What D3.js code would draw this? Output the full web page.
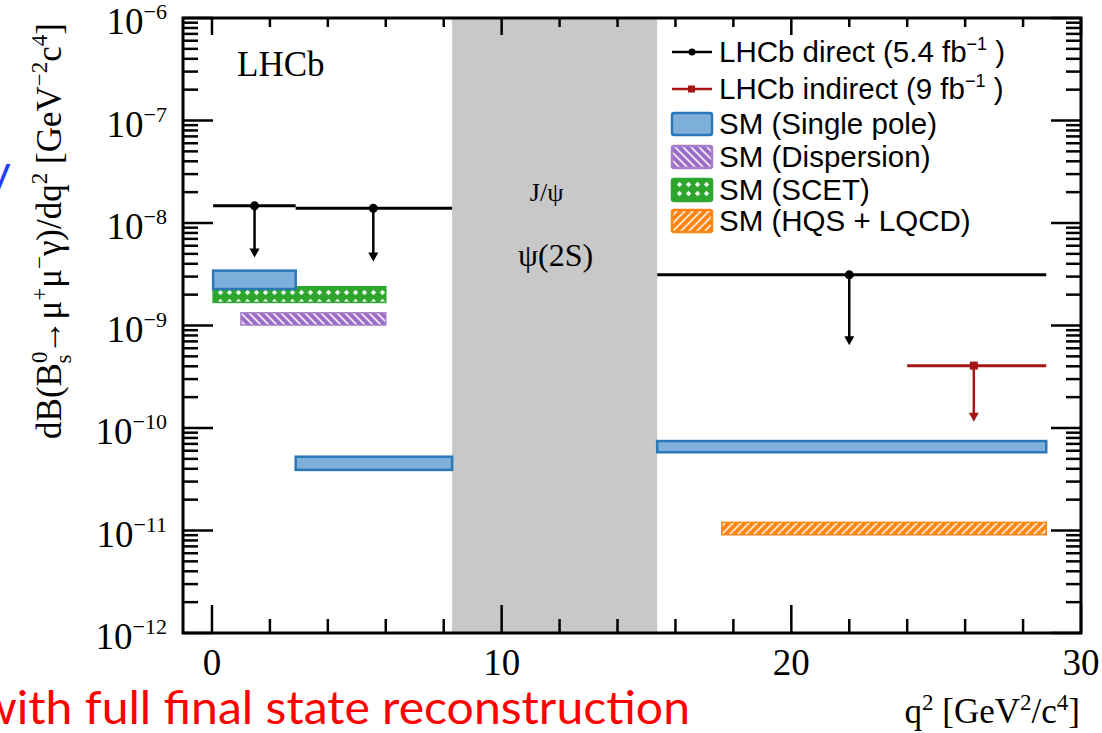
<!DOCTYPE html>
<html><head><meta charset="utf-8">
<script src="https://cdn.jsdelivr.net/npm/d3@7/dist/d3.min.js"></script>
<style>body{margin:0;background:#fff;overflow:hidden}svg{display:block}</style>
</head><body>
<svg id="c" width="1102" height="733"></svg>
<script>
// ---- data ----
const xDomain = [-1, 30];
const yDomain = [1e-12, 1e-6];
const xMajorTicks = [0, 10, 20, 30];
const xMinorTicks = [2, 4, 6, 8, 12, 14, 16, 18, 22, 24, 26, 28];
const yDecades = [-12, -11, -10, -9, -8, -7, -6];
const resonanceBand = [8.29, 15.37];
const resonanceLabels = ["J/\u03C8", "\u03C8(2S)"];
// LHCb direct: bin lo, bin hi, limit, marker x, arrow end
const directLo = [0.04, 2.89, 15.37];
const directHi = [2.89, 8.29, 28.8];
const directLimit = [1.47e-8, 1.39e-8, 3.12e-9];
const directMarkX = [1.47, 5.57, 22.0];
const directArrowTo = [4.6e-9, 4.2e-9, 6.4e-10];
// LHCb indirect
const indirectLo = [24.0];
const indirectHi = [28.8];
const indirectLimit = [4.06e-10];
const indirectMarkX = [26.3];
const indirectArrowTo = [1.15e-10];
// SM predictions: [qlo, qhi, low, high]
const smSinglePole = [[0.04, 2.89, 2.27e-9, 3.43e-9], [2.89, 8.29, 3.9e-11, 5.25e-11], [15.37, 28.8, 5.8e-11, 7.46e-11]];
const smDispersion = [[1.0, 6.0, 1.01e-9, 1.33e-9]];
const smSCET = [[0.04, 6.0, 1.68e-9, 2.39e-9]];
const smHQS = [[17.6, 28.8, 9.1e-12, 1.2e-11]];
const legendLabels = ["LHCb direct (5.4 fb", "LHCb indirect (9 fb", "SM (Single pole)", "SM (Dispersion)", "SM (SCET)", "SM (HQS + LQCD)"];

// ---- setup ----
const L = 183, R = 1081, T = 18, B = 633;
const x = d3.scaleLinear().domain(xDomain).range([L, R]);
const y = d3.scaleLog().domain(yDomain).range([B, T]);
const svg = d3.select("#c");
const serif = "'Liberation Serif','DejaVu Serif',serif";
const sans = "'Liberation Sans',Arial,sans-serif";
const defs = svg.append("defs");

// patterns
function hatch(id, color, dir) {
  const p = defs.append("pattern").attr("id", id).attr("patternUnits", "userSpaceOnUse")
    .attr("width", 8).attr("height", 8);
  p.append("rect").attr("width", 8).attr("height", 8).attr("fill", color);
  const d = dir > 0 ? "M-2,10 L10,-2 M-2,2 L2,-2 M6,10 L10,6" : "M-2,-2 L10,10 M6,-2 L10,2 M-2,6 L2,10";
  p.append("path").attr("d", d).attr("stroke", "#fff").attr("stroke-width", 1.8).attr("opacity", 0.85);
}
hatch("hPurple", "#9b6cc4", -1);
hatch("hOrange", "#ff8512", 1);
{
  const p = defs.append("pattern").attr("id", "hGreen").attr("patternUnits", "userSpaceOnUse")
    .attr("width", 9).attr("height", 9);
  p.append("rect").attr("width", 9).attr("height", 9).attr("fill", "#2ea62e");
  p.append("path").attr("d", "M4.5,1.8 L7.2,4.5 L4.5,7.2 L1.8,4.5 Z").attr("fill", "#fff").attr("opacity", 0.9);
}

// resonance band
svg.append("rect").attr("x", x(resonanceBand[0])).attr("y", T)
  .attr("width", x(resonanceBand[1]) - x(resonanceBand[0])).attr("height", B - T)
  .attr("fill", "#c8c8c8");
const bandMid = (x(resonanceBand[0]) + x(resonanceBand[1])) / 2;
svg.append("text").attr("x", bandMid - 8).attr("y", 201).attr("text-anchor", "middle")
  .attr("font-family", serif).attr("font-size", 26).text(resonanceLabels[0]);
svg.append("text").attr("x", bandMid + 1).attr("y", 266).attr("text-anchor", "middle")
  .attr("font-family", serif).attr("font-size", 32).text(resonanceLabels[1]);

// SM bands
function bands(data, fill, stroke, sw) {
  svg.append("g").selectAll("rect").data(data).join("rect")
    .attr("x", d => x(d[0])).attr("y", d => y(d[3]))
    .attr("width", d => x(d[1]) - x(d[0])).attr("height", d => y(d[2]) - y(d[3]))
    .attr("fill", fill).attr("stroke", stroke).attr("stroke-width", sw);
}
bands(smSCET, "url(#hGreen)", "#2ea62e", 1.5);
bands(smDispersion, "url(#hPurple)", "#a77fcb", 1.5);
bands(smHQS, "url(#hOrange)", "#ff8512", 1.5);
bands(smSinglePole, "#7eb0db", "#2a78b8", 2.5);

// limits
function limits(lo, hi, lim, mx, to, color, square) {
  const g = svg.append("g");
  lo.forEach((l, i) => {
    g.append("line").attr("x1", x(l)).attr("x2", x(hi[i])).attr("y1", y(lim[i])).attr("y2", y(lim[i]))
      .attr("stroke", color).attr("stroke-width", 3);
    g.append("line").attr("x1", x(mx[i])).attr("x2", x(mx[i])).attr("y1", y(lim[i])).attr("y2", y(to[i]) - 6)
      .attr("stroke", color).attr("stroke-width", 2.5);
    const ax = x(mx[i]), ay = y(to[i]);
    g.append("path").attr("d", `M${ax - 5},${ay - 9} L${ax + 5},${ay - 9} L${ax},${ay} Z`).attr("fill", color);
    if (square) g.append("rect").attr("x", ax - 4).attr("y", y(lim[i]) - 4).attr("width", 8).attr("height", 8).attr("fill", color);
    else g.append("circle").attr("cx", ax).attr("cy", y(lim[i])).attr("r", 4.5).attr("fill", color);
  });
}
limits(directLo, directHi, directLimit, directMarkX, directArrowTo, "#000", false);
limits(indirectLo, indirectHi, indirectLimit, indirectMarkX, indirectArrowTo, "#a51515", true);

// axes ticks
const tk = svg.append("g").attr("stroke", "#000").attr("stroke-width", 2.5);
xMajorTicks.forEach(v => {
  tk.append("line").attr("x1", x(v)).attr("x2", x(v)).attr("y1", B).attr("y2", B - 28);
  tk.append("line").attr("x1", x(v)).attr("x2", x(v)).attr("y1", T).attr("y2", T + 17);
});
xMinorTicks.forEach(v => {
  tk.append("line").attr("x1", x(v)).attr("x2", x(v)).attr("y1", B).attr("y2", B - 14);
  tk.append("line").attr("x1", x(v)).attr("x2", x(v)).attr("y1", T).attr("y2", T + 9);
});
yDecades.forEach(e => {
  const v = Math.pow(10, e);
  tk.append("line").attr("x1", L).attr("x2", L + 30).attr("y1", y(v)).attr("y2", y(v));
  tk.append("line").attr("x1", R).attr("x2", R - 30).attr("y1", y(v)).attr("y2", y(v));
  if (e < -6) for (let m = 2; m <= 9; m++) {
    const yy = y(m * v);
    tk.append("line").attr("x1", L).attr("x2", L + 15).attr("y1", yy).attr("y2", yy);
    tk.append("line").attr("x1", R).attr("x2", R - 15).attr("y1", yy).attr("y2", yy);
  }
});
svg.append("rect").attr("x", L).attr("y", T).attr("width", R - L).attr("height", B - T)
  .attr("fill", "none").attr("stroke", "#000").attr("stroke-width", 3);

// tick labels
yDecades.forEach(e => {
  const t = svg.append("text").attr("x", 167).attr("y", y(Math.pow(10, e)) + 16).attr("text-anchor", "end")
    .attr("font-family", serif).attr("font-size", 37);
  t.append("tspan").text("10");
  t.append("tspan").attr("dy", -15).attr("font-size", 22).text("\u2212" + (-e));
});
xMajorTicks.forEach(v => {
  svg.append("text").attr("x", x(v)).attr("y", 675).attr("text-anchor", "middle")
    .attr("font-family", serif).attr("font-size", 37).text(v);
});

// axis titles
{
  const t = svg.append("text").attr("transform", "translate(61,231) rotate(-90)").attr("text-anchor", "middle")
    .attr("font-family", serif).attr("font-size", 35);
  const s = 23;
  t.append("tspan").text("dB(B");
  t.append("tspan").attr("dy", -14).attr("font-size", s).text("0");
  t.append("tspan").attr("dx", -12).attr("dy", 24).attr("font-size", s).text("s");
  t.append("tspan").attr("dy", -10).text("\u2192\u03BC");
  t.append("tspan").attr("dy", -14).attr("font-size", s).text("+");
  t.append("tspan").attr("dy", 14).text("\u03BC");
  t.append("tspan").attr("dy", -14).attr("font-size", s).text("\u2212");
  t.append("tspan").attr("dy", 14).text("\u03B3)/dq");
  t.append("tspan").attr("dy", -14).attr("font-size", s).text("2");
  t.append("tspan").attr("dy", 14).text(" [GeV");
  t.append("tspan").attr("dy", -14).attr("font-size", s).text("\u22122");
  t.append("tspan").attr("dy", 14).text("c");
  t.append("tspan").attr("dy", -14).attr("font-size", s).text("4");
  t.append("tspan").attr("dy", 14).text("]");
}
{
  const t = svg.append("text").attr("x", 1080).attr("y", 723).attr("text-anchor", "end")
    .attr("font-family", serif).attr("font-size", 35);
  const s = 23;
  t.append("tspan").text("q");
  t.append("tspan").attr("dy", -13).attr("font-size", s).text("2");
  t.append("tspan").attr("dy", 13).text(" [GeV");
  t.append("tspan").attr("dy", -13).attr("font-size", s).text("2");
  t.append("tspan").attr("dy", 13).text("/c");
  t.append("tspan").attr("dy", -13).attr("font-size", s).text("4");
  t.append("tspan").attr("dy", 13).text("]");
}
svg.append("text").attr("x", 237).attr("y", 76).attr("font-family", serif).attr("font-size", 35).text("LHCb");

// legend
const rowY = [52, 89, 124, 157, 190, 221];
const lg = svg.append("g");
const sx0 = 672, sx1 = 712, tx = 719;
[["#000", false], ["#a51515", true]].forEach(([c, sq], i) => {
  lg.append("line").attr("x1", sx0).attr("x2", sx1).attr("y1", rowY[i]).attr("y2", rowY[i]).attr("stroke", c).attr("stroke-width", 2.5);
  if (sq) lg.append("rect").attr("x", 688).attr("y", rowY[i] - 3.5).attr("width", 7).attr("height", 7).attr("fill", c);
  else lg.append("circle").attr("cx", 692).attr("cy", rowY[i]).attr("r", 3.5).attr("fill", c);
});
[["#7eb0db", "#2a78b8"], ["url(#hPurple)", "#a77fcb"], ["url(#hGreen)", "#2ea62e"], ["url(#hOrange)", "#ff8512"]].forEach(([f, s], j) => {
  const i = j + 2;
  lg.append("rect").attr("x", sx0).attr("y", rowY[i] - 11).attr("width", sx1 - sx0).attr("height", 22).attr("rx", 2)
    .attr("fill", f).attr("stroke", s).attr("stroke-width", 2.5);
});
legendLabels.forEach((s, i) => {
  const t = lg.append("text").attr("x", tx).attr("y", rowY[i] + 10).attr("font-family", sans).attr("font-size", 29.5);
  t.append("tspan").text(s);
  if (i < 2) {
    t.append("tspan").attr("dy", -12).attr("font-size", 18).text("\u22121");
    t.append("tspan").attr("dy", 12).text(" )");
  }
});

// slide overlay text
svg.append("text").attr("x", -21).attr("y", 724).attr("font-family", "Lato,'Open Sans',sans-serif")
  .attr("font-size", 46).attr("fill", "#f00").attr("textLength", 711).attr("lengthAdjust", "spacingAndGlyphs")
  .text("with full final state reconstruction");
svg.append("text").attr("x", -12).attr("y", 187).attr("font-family", "Lato,'Open Sans',sans-serif")
  .attr("font-size", 44).attr("fill", "#1f3cff").text("y");
</script>
</body></html>
